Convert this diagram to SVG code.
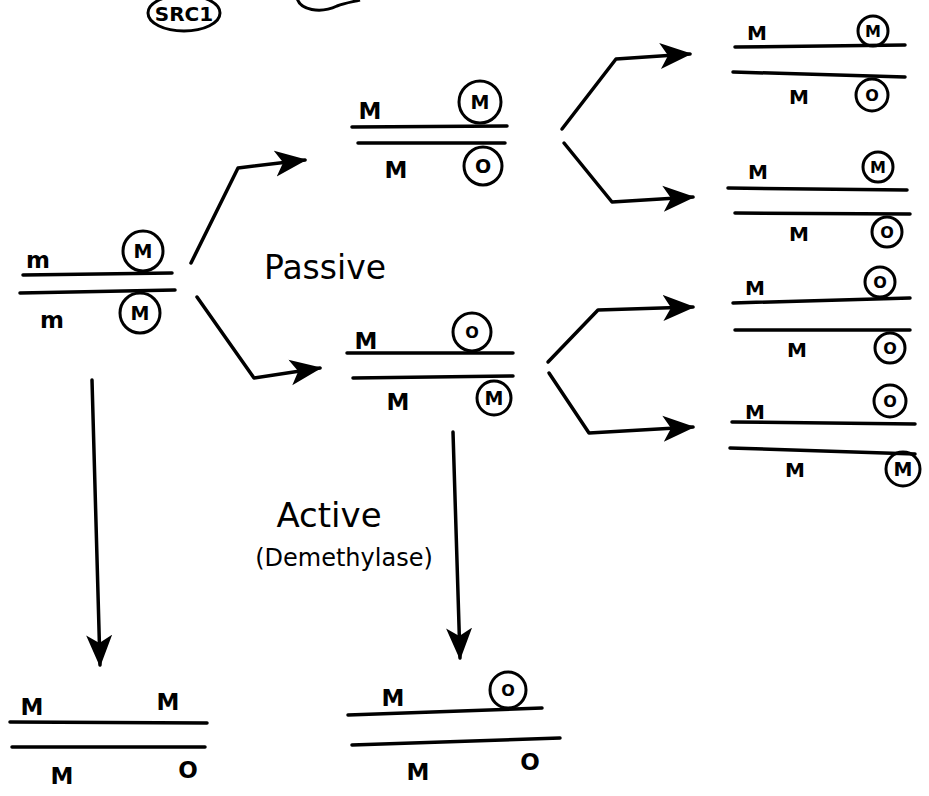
<svg xmlns="http://www.w3.org/2000/svg" width="929" height="796" viewBox="0 0 929 796">
<style>
.s{stroke:#000;stroke-width:3.5;fill:none;stroke-linecap:round;stroke-linejoin:round}
.c{stroke:#000;stroke-width:3;fill:none}
.t{font-family:"DejaVu Sans","Liberation Sans",sans-serif;font-weight:bold;fill:#000;text-anchor:middle}
.m{font-size:23px}
.sm{font-size:20px}
.cm{font-size:19px}
.cs{font-size:16px}
.h{font-family:"DejaVu Sans","Liberation Sans",sans-serif;fill:#000;text-anchor:middle}
</style>
<defs>
<marker id="ah" viewBox="0 0 32 28" refX="30" refY="14" markerWidth="32" markerHeight="28" markerUnits="userSpaceOnUse" orient="auto">
<path d="M0,1 L32,14 L0,27 L8,14 Z" fill="#000"/>
</marker>
</defs>
<rect width="929" height="796" fill="#fff"/>

<g id="src1">
<ellipse class="c" cx="184" cy="13" rx="36" ry="18"/>
<text class="t" x="184" y="21" font-size="20">SRC1</text>
</g>
<g id="src2">
<path class="c" d="M297,-2 C300,10 320,14 337,6 C345,3 352,2 360,0"/>
</g>

<g id="connectors">
<polyline class="s" points="191,263 238,168 305,160" marker-end="url(#ah)"/>
<polyline class="s" points="197,297 254,378 320,368" marker-end="url(#ah)"/>
<polyline class="s" points="562,129 616,59 690,54" marker-end="url(#ah)"/>
<polyline class="s" points="564,143 612,202 693,197" marker-end="url(#ah)"/>
<polyline class="s" points="548,362 598,310 693,307" marker-end="url(#ah)"/>
<polyline class="s" points="549,373 589,433 693,427" marker-end="url(#ah)"/>
<polyline class="s" points="92,380 100,665" marker-end="url(#ah)"/>
<polyline class="s" points="453,432 460,658" marker-end="url(#ah)"/>
</g>

<g id="label-passive"><text class="h" x="325" y="279" font-size="33">Passive</text></g>
<g id="label-active">
<text class="h" x="329" y="527" font-size="34">Active</text>
<text class="h" x="344" y="566" font-size="24">(Demethylase)</text>
</g>

<g id="node-left">
<text class="t m" x="38" y="268">m</text>
<circle class="c" cx="143" cy="251" r="20"/>
<text class="t cm" x="143" y="258">M</text>
<path class="s" d="M23,275 L172,273"/>
<path class="s" d="M20,293 L175,290"/>
<text class="t m" x="52" y="328">m</text>
<circle class="c" cx="140" cy="313" r="20"/>
<text class="t cm" x="140" y="320">M</text>
</g>

<g id="node-mid-top">
<text class="t m" x="370" y="119">M</text>
<circle class="c" cx="480" cy="102" r="21"/>
<text class="t cm" x="480" y="109">M</text>
<path class="s" d="M352,127 L507,126"/>
<path class="s" d="M358,143 L505,143"/>
<text class="t m" x="396" y="178">M</text>
<circle class="c" cx="483" cy="166" r="19"/>
<text class="t cm" x="483" y="173">O</text>
</g>

<g id="node-mid-bottom">
<text class="t m" x="366" y="349">M</text>
<circle class="c" cx="472" cy="332" r="19"/>
<text class="t cs" x="472" y="338">O</text>
<path class="s" d="M347,353 L513,353"/>
<path class="s" d="M353,378 L513,376"/>
<text class="t m" x="398" y="410">M</text>
<circle class="c" cx="494" cy="398" r="17"/>
<text class="t cm" x="494" y="405">M</text>
</g>

<g id="node-r1">
<text class="t sm" x="757" y="40">M</text>
<circle class="c" cx="873" cy="31" r="15"/>
<text class="t cs" x="873" y="37">M</text>
<path class="s" d="M735,47 L905,45"/>
<path class="s" d="M733,72 L905,77"/>
<text class="t sm" x="799" y="104">M</text>
<circle class="c" cx="872" cy="95" r="16"/>
<text class="t cs" x="872" y="101">O</text>
</g>

<g id="node-r2">
<text class="t sm" x="758" y="179">M</text>
<circle class="c" cx="878" cy="167" r="15"/>
<text class="t cs" x="878" y="173">M</text>
<path class="s" d="M728,188 L907,190"/>
<path class="s" d="M735,213 L910,214"/>
<text class="t sm" x="799" y="241">M</text>
<circle class="c" cx="887" cy="232" r="15"/>
<text class="t cs" x="887" y="238">O</text>
</g>

<g id="node-r3">
<text class="t sm" x="755" y="295">M</text>
<circle class="c" cx="880" cy="282" r="15"/>
<text class="t cs" x="880" y="288">O</text>
<path class="s" d="M733,303 L910,298"/>
<path class="s" d="M735,330 L910,330"/>
<text class="t sm" x="797" y="357">M</text>
<circle class="c" cx="890" cy="348" r="15"/>
<text class="t cs" x="890" y="354">O</text>
</g>

<g id="node-r4">
<text class="t sm" x="755" y="419">M</text>
<circle class="c" cx="890" cy="401" r="16"/>
<text class="t cs" x="890" y="407">O</text>
<path class="s" d="M732,422 L915,424"/>
<path class="s" d="M730,448 L915,454"/>
<text class="t sm" x="795" y="477">M</text>
<circle class="c" cx="903" cy="469" r="17"/>
<text class="t cm" x="903" y="476">M</text>
</g>

<g id="node-bottom-left">
<text class="t m" x="32" y="715">M</text>
<text class="t m" x="168" y="710">M</text>
<path class="s" d="M10,722 L207,723"/>
<path class="s" d="M12,747 L205,747"/>
<text class="t m" x="62" y="784">M</text>
<text class="t m" x="188" y="778">O</text>
</g>

<g id="node-bottom-mid">
<text class="t m" x="393" y="706">M</text>
<circle class="c" cx="508" cy="690" r="18"/>
<text class="t cs" x="508" y="696">O</text>
<path class="s" d="M348,715 L542,708"/>
<path class="s" d="M352,745 L560,738"/>
<text class="t m" x="418" y="780">M</text>
<text class="t m" x="530" y="770">O</text>
</g>
</svg>
